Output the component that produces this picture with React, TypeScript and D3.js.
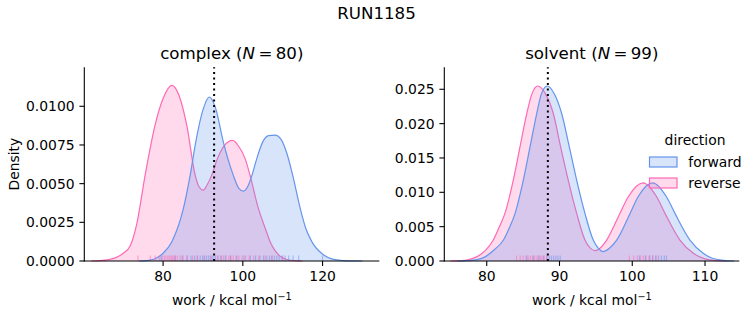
import React from 'react';
import * as d3 from 'd3';

const W = 753;
const H = 325;
const FONT = '"DejaVu Sans", Verdana, sans-serif';

// Density curves: [work, density]
const complexReverse: [number, number][] = [
  [62, 0], [64, 0.00002], [66, 0.00007], [68, 0.0002], [70, 0.0005], [71.7, 0.00095],
  [73.4, 0.0024], [75.5, 0.00555], [78, 0.0088], [80, 0.0105], [82.2, 0.01135],
  [84, 0.0107], [86, 0.0087], [88, 0.0056], [89, 0.0048], [90.1, 0.00458], [91, 0.0049],
  [92.2, 0.00555], [93.6, 0.0066], [95.5, 0.0075], [97.4, 0.0078], [99, 0.0074],
  [100.6, 0.0066], [101.8, 0.00555], [103.9, 0.0034], [105.5, 0.0022], [106.85, 0.00125],
  [108, 0.0007], [109.4, 0.0003], [111, 0.0001], [113, 0.00002], [115, 0],
];
const complexForward: [number, number][] = [
  [74, 0], [76, 0.00003], [78, 0.00015], [80, 0.0005], [82.2, 0.00125], [85.1, 0.0034],
  [86.8, 0.00555], [88.2, 0.0077], [90.1, 0.00985], [91.6, 0.0106], [93.2, 0.00985],
  [95.1, 0.0077], [97.6, 0.00555], [99, 0.0047], [100.15, 0.00452], [101.2, 0.0048],
  [102.3, 0.00555], [103.5, 0.00662], [105, 0.0077], [106.5, 0.0081], [108.1, 0.00813],
  [109.5, 0.0079], [111, 0.007], [112.5, 0.00555], [114.4, 0.0034], [115.8, 0.0021],
  [117.3, 0.00125], [120.2, 0.0004], [122.5, 0.00012], [125, 0.00003], [128, 0.000005], [130, 0],
];
const solventReverse: [number, number][] = [
  [75, 0], [76.5, 0.00005], [77.5, 0.0002], [78.6, 0.0006], [79.8, 0.0015], [80.9, 0.00305],
  [81.7, 0.0049], [82.5, 0.00693], [83.65, 0.01177], [84.57, 0.01661], [85.5, 0.02147],
  [86.2, 0.0243], [87.0, 0.02548], [88.1, 0.0243], [89.15, 0.02147], [90.16, 0.01661],
  [91.2, 0.01177], [92.36, 0.00693], [93.5, 0.00305], [94.2, 0.0019], [94.88, 0.0015],
  [95.6, 0.0019], [96.48, 0.00305], [98.3, 0.00693], [99.45, 0.00935], [101.5, 0.01138],
  [103.35, 0.00935], [104.5, 0.00693], [106.55, 0.00305], [108.4, 0.00112], [110, 0.0003],
  [111.5, 0.00005], [113, 0],
];
const solventForward: [number, number][] = [
  [76, 0], [77.5, 0.00005], [78.7, 0.0002], [79.77, 0.0006], [81, 0.0016], [82.3, 0.00305],
  [83.1, 0.0048], [83.9, 0.00693], [85.03, 0.01177], [85.95, 0.01661], [86.87, 0.02147],
  [87.5, 0.0243], [88.33, 0.02548], [89.3, 0.0243], [90.3, 0.02147], [91.35, 0.01661],
  [92.36, 0.01177], [93.5, 0.00693], [94.64, 0.00305], [95.3, 0.0019], [96.0, 0.00136],
  [96.9, 0.0019], [97.86, 0.00305], [99.7, 0.00693], [100.8, 0.00935], [102.8, 0.01138],
  [104.7, 0.00935], [105.87, 0.00693], [107.93, 0.00305], [109.75, 0.00112], [111, 0.0004],
  [112.5, 0.0001], [114, 0],
];

// Rug (individual work values), read approximately
const complexReverseRug = [73.7, 76.8, 78.0, 79.1, 79.8, 80.3, 80.7, 81.2, 81.6, 82.0, 82.3, 82.7,
  83.1, 83.6, 84.3, 85.0, 86.1, 87.4, 88.6, 90.3, 92.1, 93.6, 94.4, 95.1, 95.8, 96.5, 97.0, 97.6,
  98.3, 99.0, 99.8, 100.7, 101.6, 102.7, 104.0, 105.6, 107.3, 110.0];
const complexForwardRug = [79.5, 83.0, 84.8, 86.0, 87.0, 87.9, 88.6, 89.3, 89.9, 90.4, 90.9, 91.4,
  91.9, 92.5, 93.1, 93.8, 94.6, 95.6, 96.9, 98.5, 100.3, 101.9, 103.2, 104.3, 105.2, 106.0, 106.7,
  107.3, 107.9, 108.5, 109.1, 109.8, 110.6, 111.5, 112.6, 114.0, 120.0];
const solventReverseRug = [84.1, 84.6, 85.0, 85.4, 85.7, 86.0, 86.3, 86.6, 86.9, 87.1, 87.4, 87.6,
  87.9, 88.2, 99.6, 100.2, 100.7, 101.1, 101.5, 101.9, 102.3, 102.8, 103.3];
const solventForwardRug = [85.5, 86.4, 87.2, 87.8, 88.3, 88.6, 88.9, 89.2, 89.5, 89.8, 90.1,
  101.0, 101.8, 102.4, 102.8, 103.2, 103.6, 104.0, 104.4, 104.7];

const complexXTicks = [80, 100, 120];
const complexYTicks = [0, 0.0025, 0.005, 0.0075, 0.01];
const solventXTicks = [80, 90, 100, 110];
const solventYTicks = [0, 0.005, 0.01, 0.015, 0.02, 0.025];
const complexMarker = 92.8;
const solventMarker = 88.4;
const complexN = 80;
const solventN = 99;
const directions = ['forward', 'reverse'];
const dirColors: Record<string, string> = { forward: '#6495ED', reverse: '#FF69B4' };

type PanelProps = {
  left: number; right: number; top: number; bottom: number;
  xDomain: [number, number]; yDomain: [number, number];
  xTicks: number[]; yTicks: number[]; yDigits: number;
  forward: [number, number][]; reverse: [number, number][];
  forwardRug: number[]; reverseRug: number[];
  marker: number; name: string; n: number; showYLabel: boolean;
};

function Panel(p: PanelProps) {
  const x = d3.scaleLinear().domain(p.xDomain).range([p.left, p.right]);
  const y = d3.scaleLinear().domain(p.yDomain).range([p.bottom, p.top]);
  const area = d3.area<[number, number]>()
    .x(d => x(d[0])).y0(y(0)).y1(d => y(d[1])).curve(d3.curveMonotoneX);
  const line = d3.line<[number, number]>()
    .x(d => x(d[0])).y(d => y(d[1])).curve(d3.curveMonotoneX);
  const fmt = d3.format(`.${p.yDigits}f`);
  const series = [
    { key: 'reverse', data: p.reverse },
    { key: 'forward', data: p.forward },
  ];
  const rugs = [
    { key: 'forward', data: p.forwardRug },
    { key: 'reverse', data: p.reverseRug },
  ];
  const cx = (p.left + p.right) / 2;
  return (
    <g>
      {series.map(s => (
        <g key={s.key}>
          <path d={area(s.data) || ''} fill={dirColors[s.key]} fillOpacity={0.25} stroke="none" />
          <path d={line(s.data) || ''} fill="none" stroke={dirColors[s.key]} strokeWidth={1.2} />
        </g>
      ))}
      {rugs.map(r => (
        <g key={r.key}>
          {r.data.map((v, i) => (
            <line key={i} x1={x(v)} x2={x(v)} y1={p.bottom} y2={p.bottom - 5.5}
              stroke={dirColors[r.key]} strokeOpacity={0.5} strokeWidth={1.2} />
          ))}
        </g>
      ))}
      <line x1={x(p.marker)} x2={x(p.marker)} y1={p.bottom} y2={p.top}
        stroke="#000" strokeWidth={2} strokeDasharray="2.1 3.4" />
      {/* spines */}
      <line x1={p.left} x2={p.left} y1={p.top} y2={p.bottom + 0.5} stroke="#000" strokeWidth={1.1} />
      <line x1={p.left - 0.5} x2={p.right} y1={p.bottom} y2={p.bottom} stroke="#000" strokeWidth={1.1} />
      {p.xTicks.map(t => (
        <g key={t}>
          <line x1={x(t)} x2={x(t)} y1={p.bottom} y2={p.bottom + 4.9} stroke="#000" strokeWidth={1.1} />
          <text x={x(t)} y={p.bottom + 20} textAnchor="middle" fontSize={13.9} fontFamily={FONT}>{t}</text>
        </g>
      ))}
      {p.yTicks.map(t => (
        <g key={t}>
          <line x1={p.left - 4.9} x2={p.left} y1={y(t)} y2={y(t)} stroke="#000" strokeWidth={1.1} />
          <text x={p.left - 9.7} y={y(t) + 5} textAnchor="end" fontSize={13.9} fontFamily={FONT}>{fmt(t)}</text>
        </g>
      ))}
      <text x={cx} y={p.top - 8.3} textAnchor="middle" fontSize={16.67} fontFamily={FONT}>
        {p.name} (<tspan fontStyle="italic">N</tspan>{'\u2009=\u2009'}{p.n})
      </text>
      <text x={cx} y={305} textAnchor="middle" fontSize={13.9} fontFamily={FONT}>
        work / kcal mol<tspan dy={-5.5} fontSize={9.7}>−1</tspan>
      </text>
      {p.showYLabel && (
        <text transform={`translate(19,${(p.top + p.bottom) / 2}) rotate(-90)`} textAnchor="middle"
          fontSize={13.9} fontFamily={FONT}>Density</text>
      )}
    </g>
  );
}

export default function App() {
  return (
    <svg width={W} height={H} style={{ position: 'absolute', left: 0, top: 0, background: '#fff' }}>
      <rect width={W} height={H} fill="#fff" />
      <text x={376.5} y={19} textAnchor="middle" fontSize={16.67} fontFamily={FONT}>RUN1185</text>
      <Panel left={84.3} right={379.3} top={67.3} bottom={261} xDomain={[60.24, 134.23]}
        yDomain={[0, 0.01252]} xTicks={complexXTicks} yTicks={complexYTicks} yDigits={4}
        forward={complexForward} reverse={complexReverse} forwardRug={complexForwardRug}
        reverseRug={complexReverseRug} marker={complexMarker} name="complex" n={complexN} showYLabel />
      <Panel left={444.3} right={739.3} top={67.3} bottom={261} xDomain={[74.17, 114.71]}
        yDomain={[0, 0.0282]} xTicks={solventXTicks} yTicks={solventYTicks} yDigits={3}
        forward={solventForward} reverse={solventReverse} forwardRug={solventForwardRug}
        reverseRug={solventReverseRug} marker={solventMarker} name="solvent" n={solventN} showYLabel={false} />
      <g>
        <text x={695} y={145.3} textAnchor="middle" fontSize={13.9} fontFamily={FONT}>direction</text>
        {directions.map((d, i) => (
          <g key={d}>
            <rect x={649.5} y={157 + i * 21} width={27.5} height={10}
              fill={dirColors[d]} fillOpacity={0.25} stroke={dirColors[d]} strokeWidth={1.2} />
            <text x={688.3} y={166.5 + i * 21} fontSize={13.9} fontFamily={FONT}>{d}</text>
          </g>
        ))}
      </g>
    </svg>
  );
}
